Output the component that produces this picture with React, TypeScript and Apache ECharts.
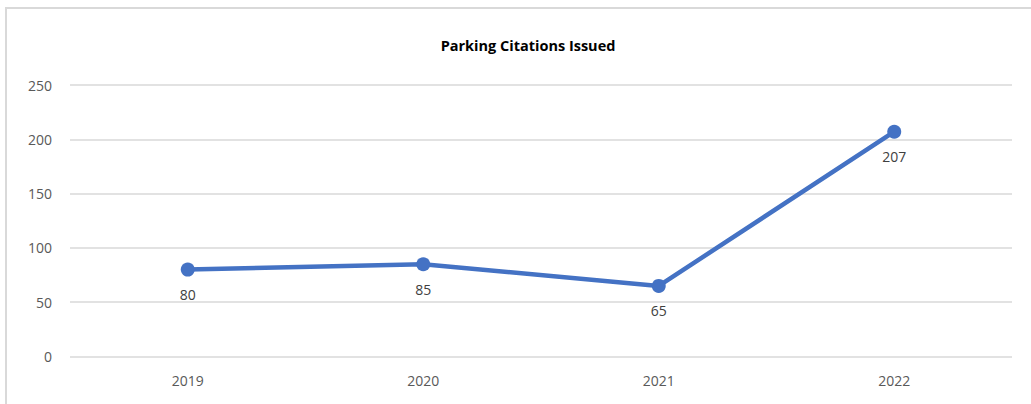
import React, { useEffect, useRef } from "react";
import * as echarts from "echarts";

const categories = ["2019", "2020", "2021", "2022"];
const citations = [80, 85, 65, 207];
const yTicks = { min: 0, max: 250, interval: 50 };
const title = "Parking Citations Issued";

export default function App() {
  const ref = useRef<HTMLDivElement>(null);
  useEffect(() => {
    if (!ref.current) return;
    const chart = echarts.init(ref.current, null, { renderer: "svg" });
    chart.setOption({
      animation: false,
      backgroundColor: "#ffffff",
      title: {
        text: title,
        left: 523,
        textAlign: "center",
        top: 33,
        textStyle: {
          fontFamily: "Open Sans",
          fontSize: 14.5,
          fontWeight: "bold",
          color: "#000000",
        },
      },
      graphic: [
        {
          type: "rect",
          shape: { x: 6, y: 8, width: 1200, height: 600 },
          style: { fill: "none", stroke: "#d9d9d9", lineWidth: 2 },
          silent: true,
        },
      ],
      grid: { left: 70, right: 19, top: 85, bottom: 47.5 },
      xAxis: {
        type: "category",
        data: categories,
        boundaryGap: true,
        axisLine: { show: false },
        axisTick: { show: false },
        axisLabel: {
          color: "#595959",
          fontFamily: "Open Sans",
          fontSize: 14,
          margin: 17,
        },
      },
      yAxis: {
        type: "value",
        min: yTicks.min,
        max: yTicks.max,
        interval: yTicks.interval,
        axisLine: { show: false },
        axisTick: { show: false },
        axisLabel: {
          color: "#595959",
          fontFamily: "Open Sans",
          fontSize: 14,
          margin: 18,
        },
        splitLine: { lineStyle: { color: "#d9d9d9", width: 1.5 } },
      },
      series: [
        {
          type: "line",
          data: citations,
          lineStyle: { color: "#4472C4", width: 4.5 },
          itemStyle: { color: "#4472C4" },
          symbol: "circle",
          symbolSize: 14,
          label: {
            show: true,
            position: "bottom",
            distance: 11,
            color: "#404040",
            fontFamily: "Open Sans",
            fontSize: 14,
          },
        },
      ],
    });
    return () => chart.dispose();
  }, []);
  return (
    <div
      ref={ref}
      style={{ position: "fixed", left: 0, top: 0, width: 1031, height: 404 }}
    />
  );
}
